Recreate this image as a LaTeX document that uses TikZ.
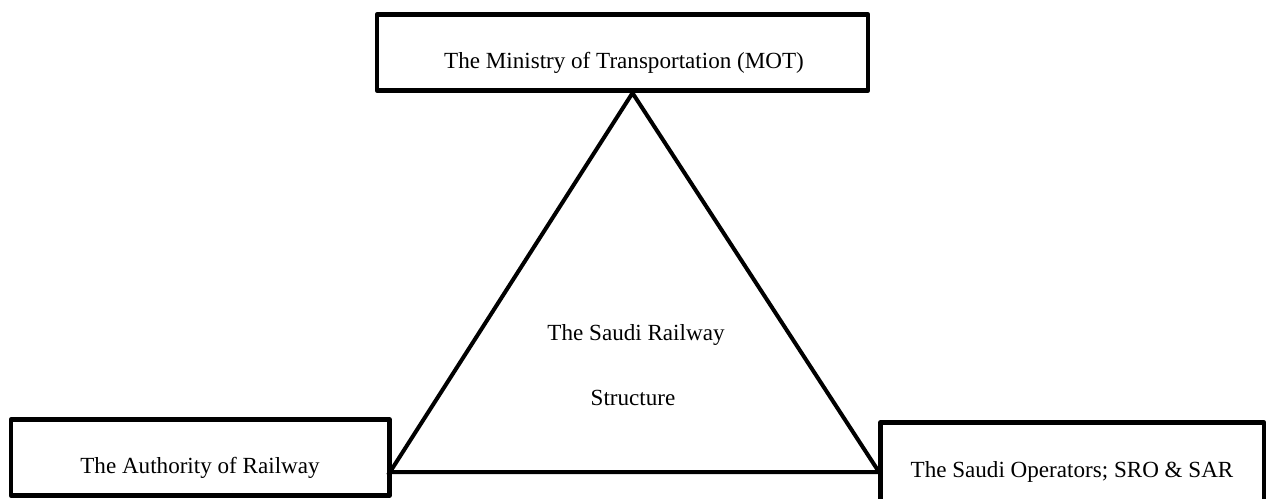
\documentclass[tikz,border=0pt]{standalone}
\usepackage{fontspec}
\setmainfont{Liberation Serif}
\begin{document}
\begin{tikzpicture}[x=1pt,y=-1pt,
  box/.style={draw, line width=4.5pt, line join=round, inner sep=0pt, outer sep=0pt, anchor=north west},
  lbl/.style={font=\fontsize{23.1}{28}\selectfont, inner sep=0pt, anchor=base},
  tri/.style={draw, line width=4pt, line join=miter}]
\useasboundingbox (0,0) rectangle (1266,498);
\clip (0,0) rectangle (1266,498);
\node[box, minimum width=491pt, minimum height=76pt] (mot) at (377,14.5) {};
\node[box, minimum width=378.5pt, minimum height=76pt] (auth) at (11,419.5) {};
\node[box, minimum width=383.5pt, minimum height=80pt] (ops) at (880.5,422.5) {};
\coordinate (apex) at (632.5,93);
\coordinate (bl) at (390,472);
\coordinate (br) at (879,472);
\draw[tri] (apex) -- (bl) -- (br) -- cycle;
\node[lbl] (motl) at (624,68) {The Ministry of Transportation (MOT)};
\node[lbl] (authl) at (200,473) {The Authority of Railway};
\node[lbl] (opsl) at (1072,477) {The Saudi Operators; SRO \& SAR};
\node[lbl] (c1) at (636,340) {The Saudi Railway};
\node[lbl] (c2) at (633,405) {Structure};
\end{tikzpicture}
\end{document}
